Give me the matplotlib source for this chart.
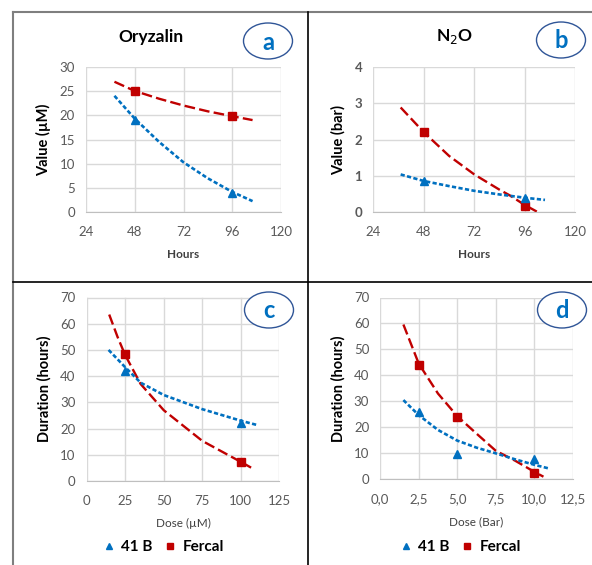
import matplotlib.pyplot as plt
from matplotlib.lines import Line2D
from matplotlib.patches import Ellipse
from matplotlib.ticker import FuncFormatter

plt.rcParams['font.family'] = ['Lato', 'DejaVu Sans']

# ---- data ----
hours = [48, 96]
a_41b = [19.0, 4.0]
a_fercal = [25.0, 19.8]
b_41b = [0.85, 0.40]
b_fercal = [2.2, 0.18]

dose_um = [25, 100]
c_41b = [42.1, 22.3]
c_fercal = [48.5, 7.3]

dose_bar = [2.5, 5, 10]
d_41b = [26.0, 9.7, 7.9]
d_fercal = [44.0, 24.1, 2.3]

# trendlines
a_trend_x = [38, 48, 60, 72, 84, 96, 106]
a_41b_trend = [24.0, 19.3, 14.5, 10.3, 7.0, 4.2, 2.3]
a_fercal_trend = [26.9, 25.0, 23.4, 22.0, 20.8, 19.8, 19.0]

b_41b_trend_x = [37, 48, 60, 72, 84, 96, 105.6]
b_41b_trend = [1.04, 0.86, 0.72, 0.59, 0.49, 0.40, 0.34]
b_fercal_trend_x = [37, 48, 60, 72, 84, 89, 96, 101.7]
b_fercal_trend = [2.88, 2.2, 1.55, 1.04, 0.62, 0.46, 0.2, 0.02]

c_41b_trend_x = [14.2, 25, 35, 50, 75, 100, 110.3]
c_41b_trend = [50.0, 43.4, 37.5, 32.8, 27.4, 23.0, 21.4]
c_fercal_trend_x = [14.6, 20, 25, 35, 50, 75, 100, 106.7]
c_fercal_trend = [63.5, 55.0, 48.0, 37.0, 27.0, 15.3, 7.3, 5.1]

d_41b_trend_x = [1.5, 2.5, 3.75, 5, 6.25, 7.5, 8.75, 10, 11.0]
d_41b_trend = [30.5, 24.7, 19.0, 14.9, 12.2, 10.0, 7.7, 5.6, 4.1]
d_fercal_trend_x = [1.5, 2.5, 3.75, 5, 6.25, 7.5, 8.75, 10, 10.6]
d_fercal_trend = [59.6, 44.5, 33.0, 24.3, 17.6, 11.0, 7.2, 2.9, 1.0]

BLUE = '#0070C0'
RED = '#C00000'
GRID = '#D9D9D9'
TXT = '#595959'
red_dash = (0, (4.5, 1.8))
blue_dash = (0, (1.6, 0.9))

fig = plt.figure(figsize=(5.92, 5.65), dpi=100)


def frac(px_l, px_t, px_r, px_b):
    return [px_l / 592, 1 - px_b / 565, (px_r - px_l) / 592, (px_b - px_t) / 565]


def style(ax, xlim, xticks, ylim, yticks, xlabel, ylabel, xbold=True, xfmt=None):
    ax.set_xlim(xlim)
    ax.set_ylim(ylim)
    ax.set_xticks(xticks)
    ax.set_yticks(yticks)
    if xfmt:
        ax.xaxis.set_major_formatter(FuncFormatter(xfmt))
    ax.grid(True, color=GRID, linewidth=1)
    ax.set_axisbelow(True)
    for s in ax.spines.values():
        s.set_visible(False)
    ax.spines['bottom'].set_visible(True)
    ax.spines['bottom'].set_color('#BFBFBF')
    ax.tick_params(length=0, labelsize=9.5, labelcolor=TXT)
    ax.tick_params(axis='x', pad=10)
    ax.tick_params(axis='y', pad=8)
    ax.set_xlabel(xlabel, fontsize=8.5, fontweight='bold' if xbold else 'normal',
                  color='#404040', labelpad=8)
    ax.set_ylabel(ylabel, fontsize=10.5, fontweight='bold', color='black', labelpad=6)


def letter(x, y, s):
    fig.patches.append(Ellipse((x / 592, 1 - y / 565), 49 / 592, 36 / 565,
                               transform=fig.transFigure, facecolor='white',
                               edgecolor='#2F5597', linewidth=1))
    fig.text(x / 592, 1 - (y + 1) / 565, s, color=BLUE, fontsize=17,
             fontweight='bold', ha='center', va='center')


# panel a
ax = fig.add_axes(frac(86, 66.7, 281, 212.3))
ax.plot(a_trend_x, a_fercal_trend, color=RED, lw=1.7, ls=red_dash)
ax.plot(a_trend_x, a_41b_trend, color=BLUE, lw=1.9, ls=blue_dash)
ax.plot(hours, a_fercal, 's', color=RED, ms=6)
ax.plot(hours, a_41b, '^', color=BLUE, ms=6)
style(ax, (24, 120), [24, 48, 72, 96, 120], (0, 30), range(0, 31, 5), 'Hours', 'Value (µM)')
fig.text(151 / 592, 1 - 37 / 565, 'Oryzalin', fontsize=12.5, fontweight='bold',
         ha='center', va='center')

# panel b
ax = fig.add_axes(frac(373.3, 66.7, 575.3, 212.3))
ax.plot(b_fercal_trend_x, b_fercal_trend, color=RED, lw=1.7, ls=red_dash)
ax.plot(b_41b_trend_x, b_41b_trend, color=BLUE, lw=1.9, ls=blue_dash)
ax.plot(hours, b_fercal, 's', color=RED, ms=6)
ax.plot(hours, b_41b, '^', color=BLUE, ms=6)
style(ax, (24, 120), [24, 48, 72, 96, 120], (0, 4), range(0, 5), 'Hours', 'Value (bar)')
for lab in ax.get_yticklabels():
    lab.set_fontweight('bold')
fig.text(455 / 592, 1 - 37 / 565, 'N$_2$O', fontsize=12.5, fontweight='bold',
         ha='center', va='center')

# panel c
ax = fig.add_axes(frac(86.7, 297.5, 279.3, 481))
ax.plot(c_fercal_trend_x, c_fercal_trend, color=RED, lw=1.7, ls=red_dash)
ax.plot(c_41b_trend_x, c_41b_trend, color=BLUE, lw=1.9, ls=blue_dash)
ax.plot(dose_um, c_fercal, 's', color=RED, ms=6)
ax.plot(dose_um, c_41b, '^', color=BLUE, ms=6)
style(ax, (0, 125), range(0, 126, 25), (0, 70), range(0, 71, 10),
      'Dose (µM)', 'Duration (hours)', xbold=False)

# panel d
ax = fig.add_axes(frac(380.3, 297.5, 572.7, 479.3))
ax.plot(d_fercal_trend_x, d_fercal_trend, color=RED, lw=1.7, ls=red_dash)
ax.plot(d_41b_trend_x, d_41b_trend, color=BLUE, lw=1.9, ls=blue_dash)
ax.plot(dose_bar, d_fercal, 's', color=RED, ms=6)
ax.plot(dose_bar, d_41b, '^', color=BLUE, ms=6)
style(ax, (0, 12.5), [0, 2.5, 5, 7.5, 10, 12.5], (0, 70), range(0, 71, 10),
      'Dose (Bar)', 'Duration (hours)', xbold=False,
      xfmt=lambda v, p: f'{v:.1f}'.replace('.', ','))

# legends under c and d
handles = [Line2D([], [], ls='none', marker='^', color=BLUE, ms=5, label='41 B'),
           Line2D([], [], ls='none', marker='s', color=RED, ms=5, label='Fercal')]
for cx in (164, 461):
    fig.legend(handles=handles, loc='center', bbox_to_anchor=(cx / 592, 1 - 547 / 565),
               ncol=2, frameon=False, handlelength=0.6, handletextpad=0.5,
               columnspacing=0.9, prop={'size': 11, 'weight': 'bold'})

# circled letters
letter(268, 41, 'a')
letter(561, 40, 'b')
letter(269, 310, 'c')
letter(562, 310, 'd')

# panel borders
fig.add_artist(Line2D([13 / 592, 1], [1 - 12 / 565] * 2, color='#7F7F7F', lw=1.5,
                      transform=fig.transFigure))
fig.add_artist(Line2D([13 / 592] * 2, [0, 1 - 12 / 565], color='#7F7F7F', lw=1.5,
                      transform=fig.transFigure))
fig.add_artist(Line2D([307.5 / 592] * 2, [0, 1 - 12 / 565], color='black', lw=1.2,
                      transform=fig.transFigure))
fig.add_artist(Line2D([13 / 592, 1], [1 - 282 / 565] * 2, color='black', lw=1.2,
                      transform=fig.transFigure))

fig.savefig('out.png', dpi=100)
